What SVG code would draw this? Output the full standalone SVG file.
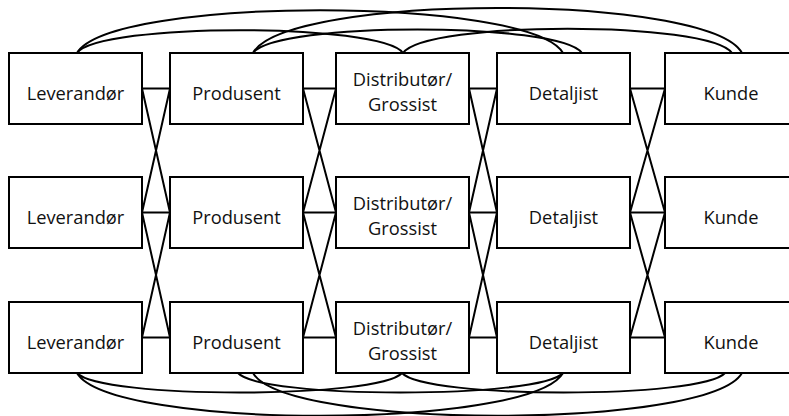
<svg xmlns="http://www.w3.org/2000/svg" width="789" height="416" viewBox="0 0 789 416">
<style>
.box{fill:#fff;stroke:#000;stroke-width:2}
.ln{fill:none;stroke:#000;stroke-width:2}
.t{font-family:"Open Sans","Liberation Sans",sans-serif;font-size:18.3px;fill:#111;text-anchor:middle}
</style>
<rect width="789" height="416" fill="#fff"/>
<g id="connectors" class="ln">
<path d="M142,88.5H170M303,88.5H336M469,88.5H497M630,88.5H665"/>
<path d="M142,212.5H170M303,212.5H336M469,212.5H497M630,212.5H665"/>
<path d="M142,337.5H170M303,337.5H336M469,337.5H497M630,337.5H665"/>
<path d="M142,88.5L170,212.5M170,88.5L142,212.5"/>
<path d="M303,88.5L336,212.5M336,88.5L303,212.5"/>
<path d="M469,88.5L497,212.5M497,88.5L469,212.5"/>
<path d="M630,88.5L665,212.5M665,88.5L630,212.5"/>
<path d="M142,212.5L170,337.5M170,212.5L142,337.5"/>
<path d="M303,212.5L336,337.5M336,212.5L303,337.5"/>
<path d="M469,212.5L497,337.5M497,212.5L469,337.5"/>
<path d="M630,212.5L665,337.5M665,212.5L630,337.5"/>
<path d="M77,53C100,22.5 380,22.5 403,53"/>
<path d="M77,53C110,-4 530,-4 563,53"/>
<path d="M253,53C276,21.5 559,21.5 582,53"/>
<path d="M253,53C286,-7 709,-7 742,53"/>
<path d="M403,53C426,20.5 709,20.5 732,53"/>
<path d="M77,373C100,399 379,399 402,373"/>
<path d="M77,373C110,430 530,430 563,373"/>
<path d="M238,373C261,399 540,399 563,373"/>
<path d="M253,373C286,430 709,430 742,373"/>
<path d="M402,373C425,399 702,399 725,373"/>
</g>
<g id="lev1"><rect class="box" x="9" y="53" width="133" height="71"/><text class="t" x="75.5" y="99.5">Leverandør</text></g>
<g id="prod1"><rect class="box" x="170" y="53" width="133" height="71"/><text class="t" x="236.5" y="99.5">Produsent</text></g>
<g id="dist1"><rect class="box" x="336" y="53" width="133" height="71"/><text class="t" x="402.5" y="85.7">Distributør/</text><text class="t" x="402.5" y="111">Grossist</text></g>
<g id="det1"><rect class="box" x="497" y="53" width="133" height="71"/><text class="t" x="563.5" y="99.5">Detaljist</text></g>
<g id="kunde1"><rect class="box" x="665" y="53" width="133" height="71"/><text class="t" x="731" y="99.5">Kunde</text></g>
<g id="lev2"><rect class="box" x="9" y="177" width="133" height="71"/><text class="t" x="75.5" y="223.5">Leverandør</text></g>
<g id="prod2"><rect class="box" x="170" y="177" width="133" height="71"/><text class="t" x="236.5" y="223.5">Produsent</text></g>
<g id="dist2"><rect class="box" x="336" y="177" width="133" height="71"/><text class="t" x="402.5" y="209.7">Distributør/</text><text class="t" x="402.5" y="235">Grossist</text></g>
<g id="det2"><rect class="box" x="497" y="177" width="133" height="71"/><text class="t" x="563.5" y="223.5">Detaljist</text></g>
<g id="kunde2"><rect class="box" x="665" y="177" width="133" height="71"/><text class="t" x="731" y="223.5">Kunde</text></g>
<g id="lev3"><rect class="box" x="9" y="302" width="133" height="71"/><text class="t" x="75.5" y="348.5">Leverandør</text></g>
<g id="prod3"><rect class="box" x="170" y="302" width="133" height="71"/><text class="t" x="236.5" y="348.5">Produsent</text></g>
<g id="dist3"><rect class="box" x="336" y="302" width="133" height="71"/><text class="t" x="402.5" y="334.7">Distributør/</text><text class="t" x="402.5" y="360">Grossist</text></g>
<g id="det3"><rect class="box" x="497" y="302" width="133" height="71"/><text class="t" x="563.5" y="348.5">Detaljist</text></g>
<g id="kunde3"><rect class="box" x="665" y="302" width="133" height="71"/><text class="t" x="731" y="348.5">Kunde</text></g>
</svg>
